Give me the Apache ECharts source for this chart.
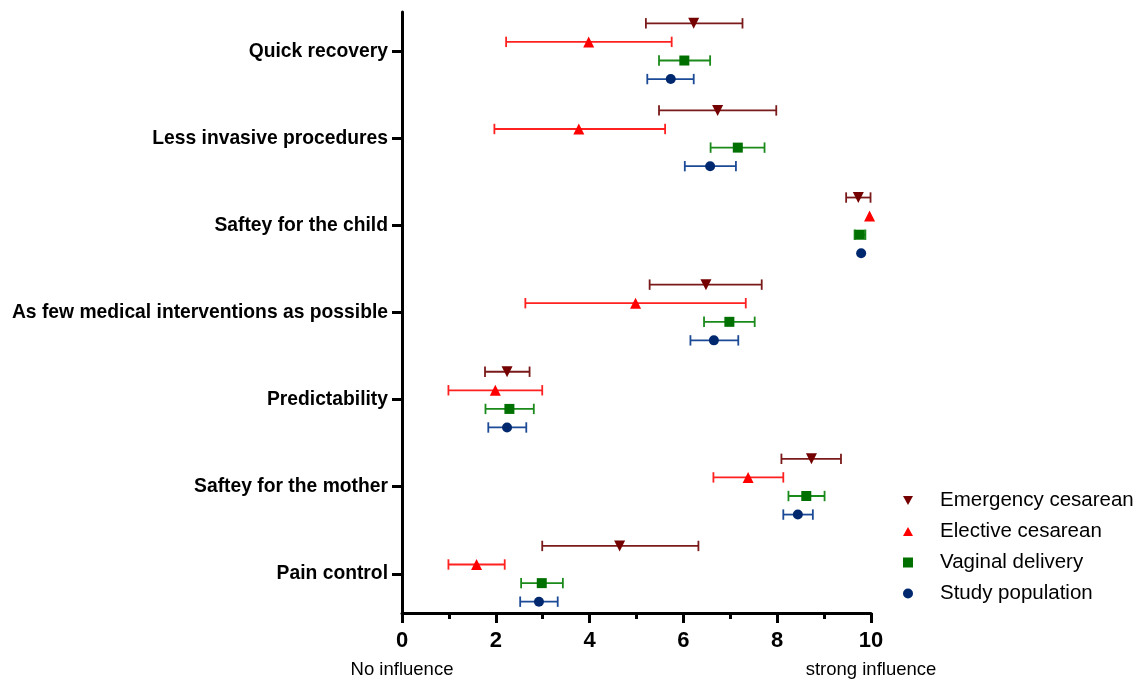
<!DOCTYPE html>
<html>
<head>
<meta charset="utf-8">
<script src="https://cdn.jsdelivr.net/npm/echarts@6/dist/echarts.min.js"></script>
<style>html,body{margin:0;padding:0;background:#fff}#c{width:1139px;height:681px}</style>
</head>
<body>
<div id="c"></div>
<script>
const categories = ['Quick recovery','Less invasive procedures','Saftey for the child','As few medical interventions as possible','Predictability','Saftey for the mother','Pain control'];
const xTicks = [0, 2, 4, 6, 8, 10];
const seriesNames = ['Emergency cesarean','Elective cesarean','Vaginal delivery','Study population'];

const emergencyMean = [6.22, 6.73, 9.73, 6.48, 2.24, 8.73, 4.64];
const emergencyLow  = [5.20, 5.48, 9.47, 5.28, 1.77, 8.09, 2.99];
const emergencyHigh = [7.26, 7.98, 9.99, 7.67, 2.72, 9.36, 6.32];

const electiveMean = [3.98, 3.77, 9.97, 4.98, 1.99, 7.38, 1.59];
const electiveLow  = [2.22, 1.97, 9.97, 2.63, 0.99, 6.64, 0.99];
const electiveHigh = [5.75, 5.61, 9.97, 7.33, 2.99, 8.13, 2.19];

const vaginalMean = [6.02, 7.16, 9.76, 6.98, 2.29, 8.62, 2.98];
const vaginalLow  = [5.48, 6.58, 9.65, 6.44, 1.78, 8.24, 2.54];
const vaginalHigh = [6.57, 7.73, 9.88, 7.52, 2.81, 9.01, 3.43];

const studyMean = [5.73, 6.57, 9.79, 6.65, 2.24, 8.44, 2.92];
const studyLow  = [5.23, 6.03, 9.79, 6.15, 1.84, 8.13, 2.52];
const studyHigh = [6.22, 7.12, 9.79, 7.17, 2.65, 8.76, 3.32];

const groups = [
  {mean: emergencyMean, low: emergencyLow, high: emergencyHigh},
  {mean: electiveMean, low: electiveLow, high: electiveHigh},
  {mean: vaginalMean, low: vaginalLow, high: vaginalHigh},
  {mean: studyMean, low: studyLow, high: studyHigh}
];
const offsets = [-0.32, -0.107, 0.107, 0.32];
const markerColors = ['#750000', '#ff0000', '#007000', '#00286e'];
const barColors = ['#7a1a1a', '#ff2020', '#1a8a1a', '#1c4a96'];
const symbols = ['triangle', 'triangle', 'rect', 'circle'];
const rotates = [180, 0, 0, 0];
const sizes = [11, 11, 10, 10];
const legendIcons = ['path://M0,0 L10,0 L5,9 Z', 'path://M5,0 L10,9 L0,9 Z', 'rect', 'circle'];

const series = [];
groups.forEach((g, s) => {
  const bars = [];
  g.mean.forEach((m, i) => {
    if (g.high[i] - g.low[i] > 0.01) bars.push([g.low[i], g.high[i], i + offsets[s]]);
  });
  series.push({
    type: 'custom',
    name: seriesNames[s] + ' SD',
    data: bars,
    encode: {x: [0, 1], y: 2},
    z: 2,
    silent: true,
    renderItem: function (params, api) {
      const lo = api.coord([api.value(0), api.value(2)]);
      const hi = api.coord([api.value(1), api.value(2)]);
      const h = 5.2;
      const st = {stroke: barColors[s], lineWidth: 1.8};
      return {type: 'group', children: [
        {type: 'line', shape: {x1: lo[0], y1: lo[1], x2: hi[0], y2: hi[1]}, style: st},
        {type: 'line', shape: {x1: lo[0], y1: lo[1] - h, x2: lo[0], y2: lo[1] + h}, style: st},
        {type: 'line', shape: {x1: hi[0], y1: hi[1] - h, x2: hi[0], y2: hi[1] + h}, style: st}
      ]};
    }
  });
});
groups.forEach((g, s) => {
  series.push({
    type: 'scatter',
    name: seriesNames[s],
    data: g.mean.map((m, i) => [m, i + offsets[s]]),
    symbol: symbols[s],
    symbolRotate: rotates[s],
    symbolSize: sizes[s],
    itemStyle: {color: markerColors[s], opacity: 1},
    z: 5,
    clip: false
  });
});

const chart = echarts.init(document.getElementById('c'));
chart.setOption({
  animation: false,
  backgroundColor: '#fff',
  grid: {left: 402, right: 268, top: 12, bottom: 68, containLabel: false},
  xAxis: {
    type: 'value', min: 0, max: 10, interval: 2,
    axisLine: {show: true, onZero: false, lineStyle: {color: '#000', width: 3}},
    axisTick: {show: true, length: 10, lineStyle: {color: '#000', width: 3}},
    minorTick: {show: true, splitNumber: 2, length: 6, lineStyle: {color: '#000', width: 3}},
    splitLine: {show: false},
    axisLabel: {
      margin: 15,
      formatter: function (v) {
        if (v === 0) return '{t|0}\n{s|No influence}';
        if (v === 10) return '{t|10}\n{s|strong influence}';
        return '{t|' + v + '}';
      },
      rich: {
        t: {fontFamily: 'Liberation Sans, Arial, sans-serif', fontWeight: 'bold', fontSize: 22, color: '#000', lineHeight: 26},
        s: {fontFamily: 'Liberation Sans, Arial, sans-serif', fontSize: 18.5, color: '#000', lineHeight: 31}
      }
    }
  },
  yAxis: {
    type: 'value', inverse: true, min: -0.45, max: 6.45,
    axisLine: {show: true, onZero: false, lineStyle: {color: '#000', width: 3}},
    axisTick: {show: true, length: 10, customValues: categories.map((c, i) => i), lineStyle: {color: '#000', width: 3}},
    splitLine: {show: false},
    axisLabel: {
      margin: 14,
      customValues: categories.map((c, i) => i),
      formatter: function (v) { return categories[Math.round(v)]; },
      fontFamily: 'Liberation Sans, Arial, sans-serif', fontWeight: 'bold', fontSize: 19.3, color: '#000'
    }
  },
  legend: {
    data: seriesNames.map((n, s) => ({name: n, icon: legendIcons[s], itemStyle: {color: markerColors[s]}})),
    orient: 'vertical',
    left: 898, top: 485,
    itemWidth: 10, itemHeight: 10, itemGap: 10,
    textStyle: {fontFamily: 'Liberation Sans, Arial, sans-serif', fontSize: 20.5, color: '#000', padding: [0, 0, 0, 22]}
  },
  series: series
});
</script>
</body>
</html>
